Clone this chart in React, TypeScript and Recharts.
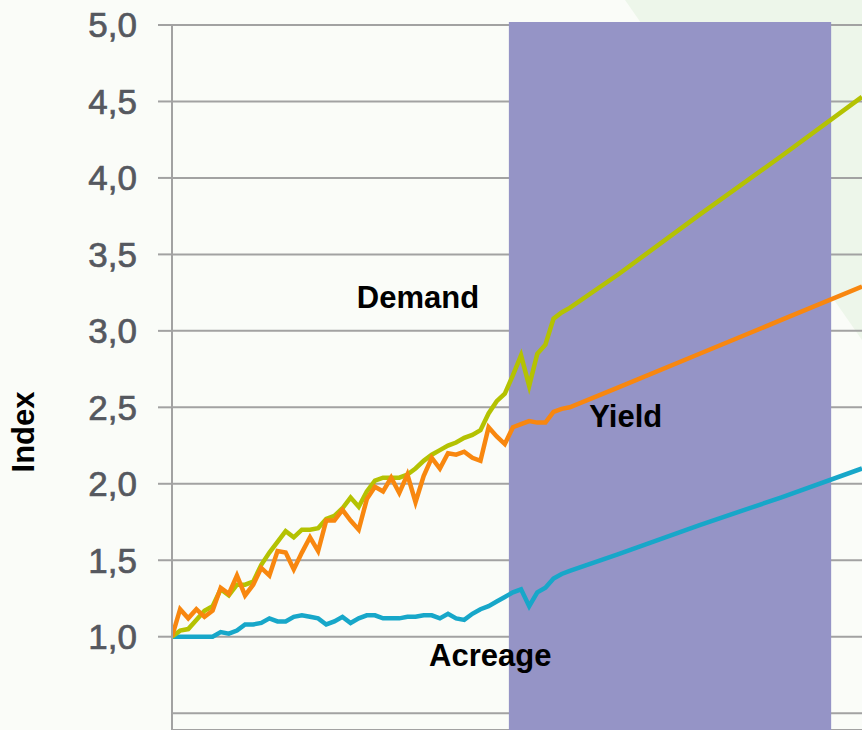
import React from "react";
import {
  CartesianGrid,
  Label,
  Line,
  LineChart,
  ReferenceArea,
  ReferenceDot,
  XAxis,
  YAxis,
} from "recharts";

// one point per year up to 2010, then the projection every ten years
const years = [
  1961, 1962, 1963, 1964, 1965, 1966, 1967, 1968, 1969, 1970,
  1971, 1972, 1973, 1974, 1975, 1976, 1977, 1978, 1979, 1980,
  1981, 1982, 1983, 1984, 1985, 1986, 1987, 1988, 1989, 1990,
  1991, 1992, 1993, 1994, 1995, 1996, 1997, 1998, 1999, 2000,
  2001, 2002, 2003, 2004, 2005, 2006, 2007, 2008, 2009, 2010,
  2016, 2026, 2036, 2046,
];

const demand = [
  1.0, 1.04, 1.05, 1.11, 1.17, 1.2, 1.31, 1.27, 1.34, 1.34,
  1.36, 1.47, 1.55, 1.62, 1.69, 1.65, 1.7, 1.7, 1.71, 1.77,
  1.79, 1.84, 1.91, 1.85, 1.95, 2.02, 2.04, 2.04, 2.04, 2.06,
  2.1, 2.15, 2.19, 2.22, 2.25, 2.27, 2.3, 2.32, 2.35, 2.46,
  2.54, 2.59, 2.71, 2.84, 2.64, 2.85, 2.91, 3.08, 3.12, 3.15,
  3.37, 3.76, 4.14, 4.53,
];

const yieldIdx = [
  1.0, 1.18, 1.12, 1.18, 1.13, 1.17, 1.32, 1.28, 1.4, 1.27,
  1.34, 1.45, 1.4, 1.56, 1.55, 1.44, 1.55, 1.65, 1.56, 1.76,
  1.76, 1.83, 1.76, 1.7, 1.9, 1.98, 1.95, 2.04, 1.94, 2.06,
  1.88, 2.05, 2.17, 2.1, 2.2, 2.19, 2.21, 2.17, 2.15, 2.37,
  2.31, 2.26, 2.37, 2.39, 2.41, 2.4, 2.4, 2.47, 2.49, 2.5,
  2.63, 2.85, 3.07, 3.29,
];

const acreage = [
  1.0, 1.0, 1.0, 1.0, 1.0, 1.0, 1.03, 1.02, 1.04, 1.08,
  1.08, 1.09, 1.12, 1.1, 1.1, 1.13, 1.14, 1.13, 1.12, 1.08,
  1.1, 1.13, 1.09, 1.12, 1.14, 1.14, 1.12, 1.12, 1.12, 1.13,
  1.13, 1.14, 1.14, 1.12, 1.15, 1.12, 1.11, 1.15, 1.18, 1.2,
  1.23, 1.26, 1.29, 1.31, 1.2, 1.29, 1.32, 1.38, 1.41, 1.43,
  1.54, 1.73, 1.91, 2.1,
];

const yTicks = [0.5, 1, 1.5, 2, 2.5, 3, 3.5, 4, 4.5, 5];

// shaded projection period
const shadeFrom = 2002.5;
const shadeTo = 2042.2;

const data = years.map((year, i) => ({
  year,
  demand: demand[i],
  yield: yieldIdx[i],
  acreage: acreage[i],
}));

const FONT = '"Liberation Sans", Arial, Helvetica, sans-serif';
const GRID = "#a2a2a2";

const labelStyle = {
  fill: "#000",
  fontSize: 31,
  fontWeight: 700,
  fontFamily: FONT,
};

const formatTick = (v: number) => v.toFixed(1).replace(".", ",");

export default function App() {
  return (
    <div
      style={{
        position: "fixed",
        left: 0,
        top: 0,
        width: 862,
        height: 730,
        background: "#fafcf8",
        overflow: "hidden",
      }}
    >
      <svg
        width={862}
        height={730}
        style={{ position: "absolute", left: 0, top: 0 }}
      >
        <polygon points="625,0 862,0 862,340" fill="#edf6ea" />
      </svg>
      <div style={{ position: "absolute", left: 0, top: 0 }}>
        <LineChart
          width={862}
          height={730}
          data={data}
          margin={{ top: 25, right: 0, bottom: 0, left: 0 }}
        >
          <ReferenceArea
            x1={shadeFrom}
            x2={shadeTo}
            y1={0.39}
            y2={5.02}
            fill="#9594c6"
            fillOpacity={1}
            stroke="none"
            ifOverflow="visible"
          />
          <CartesianGrid
            vertical={false}
            stroke={GRID}
            strokeWidth={2}
            strokeDasharray=""
          />
          <XAxis
            type="number"
            dataKey="year"
            domain={[1961, 2046]}
            allowDataOverflow
            hide
          />
          <YAxis
            type="number"
            domain={[0.39, 5]}
            allowDataOverflow
            ticks={yTicks}
            tickFormatter={formatTick}
            width={172}
            tickSize={14}
            tickMargin={21}
            axisLine={{ stroke: GRID, strokeWidth: 2 }}
            tickLine={{ stroke: GRID, strokeWidth: 2 }}
            tick={{
              fill: "#55585f",
              stroke: "#55585f",
              strokeWidth: 0.7,
              fontSize: 35,
              fontFamily: FONT,
            }}
          />
          <Line
            type="linear"
            dataKey="acreage"
            stroke="#17a7c9"
            strokeWidth={4.5}
            dot={false}
            isAnimationActive={false}
          />
          <Line
            type="linear"
            dataKey="demand"
            stroke="#b4c202"
            strokeWidth={4.5}
            dot={false}
            isAnimationActive={false}
          />
          <Line
            type="linear"
            dataKey="yield"
            stroke="#f8870f"
            strokeWidth={4.5}
            dot={false}
            isAnimationActive={false}
          />
          <ReferenceDot x={1991.3} y={3.22} r={0} stroke="none" fill="none">
            <Label value="Demand" position="center" {...labelStyle} />
          </ReferenceDot>
          <ReferenceDot x={2016.9} y={2.445} r={0} stroke="none" fill="none">
            <Label value="Yield" position="center" {...labelStyle} />
          </ReferenceDot>
          <ReferenceDot x={2000.2} y={0.883} r={0} stroke="none" fill="none">
            <Label value="Acreage" position="center" {...labelStyle} />
          </ReferenceDot>
        </LineChart>
      </div>
      <div
        style={{
          position: "absolute",
          left: 24,
          top: 432,
          transform: "translate(-50%, -50%) rotate(-90deg)",
          fontFamily: FONT,
          fontWeight: 700,
          fontSize: 31,
          color: "#000",
          whiteSpace: "nowrap",
        }}
      >
        Index
      </div>
    </div>
  );
}
